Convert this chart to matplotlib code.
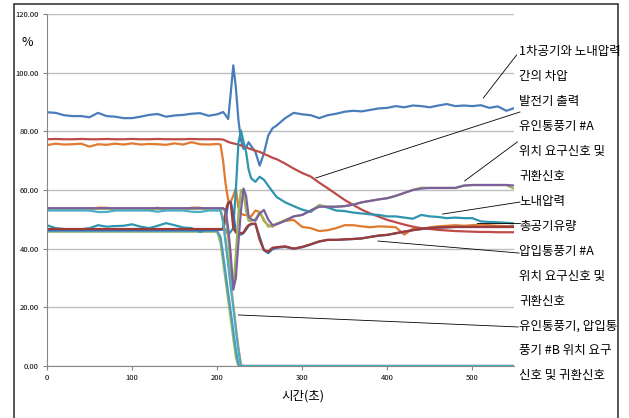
import matplotlib
matplotlib.use('Agg')
import matplotlib.pyplot as plt
from matplotlib.patches import Rectangle

plt.rcParams['font.family'] = ['Noto Sans CJK KR', 'DejaVu Sans']

# time axis (s)
t_sec = [0, 10, 20, 30, 40, 50, 60, 70, 80, 90, 100, 110, 120, 130, 140, 150, 160, 170, 180, 190, 200,
         204, 207, 210, 213, 216, 219, 222, 225, 228, 231, 234, 237, 240,
         245, 250, 255, 260, 265, 270,
         280, 290, 300, 310, 320, 330, 340, 350, 360, 370, 380, 390, 400, 410, 420, 430, 440, 450,
         460, 470, 480, 490, 500, 510, 520, 530, 540, 550]

# 1차공기와 노내압력 간의 차압
diff_press = [86.5, 86.3, 85.5, 85.2, 85.2, 84.8, 86.3, 85.2, 85.0, 84.5, 84.5, 85.0, 85.6, 85.9, 85.0, 85.4, 85.6, 86.0, 86.2, 85.3, 85.8,
              86.2, 86.6, 85.5, 84.2, 93.0, 102.5, 95.0, 84.0, 77.0, 74.0, 74.5, 76.3, 75.0,
              73.0, 68.3, 72.5, 78.5, 81.0, 82.0,
              84.5, 86.3, 85.8, 85.5, 84.5, 85.5, 86.0, 86.7, 87.0, 86.8, 87.3, 87.8, 88.0, 88.6, 88.2, 88.8, 88.6, 88.2,
              88.8, 89.3, 88.6, 88.8, 88.6, 88.9, 88.0, 88.5, 87.0, 88.0]
# 발전기 출력
gen_output = [77.3, 77.4, 77.3, 77.3, 77.4, 77.3, 77.3, 77.4, 77.3, 77.3, 77.4, 77.3, 77.3, 77.4, 77.3, 77.3, 77.3, 77.4, 77.3, 77.3, 77.3,
              77.3, 77.2, 76.8, 76.4, 76.1, 75.9, 75.7, 75.4, 75.2, 74.9, 74.6, 74.2, 73.9,
              73.4, 73.0, 72.3, 71.7, 71.0, 70.5,
              69.0, 67.3, 65.8, 64.6, 62.5, 60.6, 58.6, 56.6, 54.9, 53.3, 52.0, 50.9, 49.8, 49.0, 48.2, 47.5, 47.0, 46.7,
              46.4, 46.2, 46.0, 45.9, 45.8, 45.7, 45.7, 45.6, 45.6, 45.6]
# 총공기유량
air_flow = [75.3, 75.8, 75.5, 75.6, 75.8, 74.8, 75.6, 75.4, 75.8, 75.5, 75.9, 75.5, 75.7, 75.6, 75.4, 75.9, 75.5, 76.3, 75.6, 75.5, 75.7,
            75.5, 70.0, 62.0, 56.5, 56.0, 58.0, 60.5, 54.0, 52.0, 51.5, 51.5, 51.0, 51.0,
            53.0, 52.5, 49.5, 48.0, 47.5, 48.5,
            49.5, 49.8, 47.4, 47.0, 46.0, 46.3, 47.0, 48.0, 48.0, 47.6, 47.3, 47.6, 47.5, 47.3, 44.8, 46.8, 46.6, 47.3,
            47.6, 47.8, 48.0, 47.8, 48.0, 48.2, 48.0, 47.8, 47.7, 47.7]
# 노내압력
furnace_press = [48.0, 47.0, 46.7, 46.5, 46.6, 47.0, 48.0, 47.5, 47.7, 47.8, 48.3, 47.5, 47.0, 47.8, 48.7, 48.0, 47.2, 47.0, 45.7, 46.7, 46.4,
                 46.5, 47.0, 46.5, 44.8, 45.8, 47.0, 60.0, 76.0, 80.3, 76.5, 73.0, 67.0, 64.0,
                 62.8, 64.5, 63.5, 61.5, 59.5, 57.6,
                 55.8, 54.5, 53.3, 52.5, 54.8, 54.0, 53.0, 52.8, 52.3, 52.0, 51.7, 51.5, 51.0, 51.0, 50.6, 50.2, 51.5, 51.0,
                 50.8, 50.4, 50.6, 50.4, 50.4, 49.3, 49.1, 49.0, 48.8, 48.6]
# 유인통풍기 #A 위치 요구신호 / 귀환신호
ida_demand = [53.8, 53.8, 53.8, 53.8, 53.8, 53.8, 53.8, 53.8, 53.8, 53.8, 53.8, 53.8, 53.8, 53.8, 53.8, 53.8, 53.8, 53.8, 53.8, 53.8, 53.8,
              53.8, 53.8, 53.0, 47.0, 38.0, 26.0, 30.0, 42.0, 53.0, 60.5, 58.0, 51.0, 50.0,
              49.5, 52.0, 53.2, 50.0, 48.0, 48.3,
              49.5, 51.0, 51.5, 53.0, 54.3, 54.3, 54.3, 54.5, 55.0, 55.8, 56.3, 56.8, 57.2, 58.0, 59.0, 60.0, 60.5, 60.7,
              60.7, 60.7, 60.7, 61.5, 61.7, 61.7, 61.7, 61.7, 61.7, 61.5]
ida_feedback = [53.6, 53.6, 53.6, 53.6, 53.6, 53.6, 53.6, 53.6, 53.6, 53.6, 53.6, 53.6, 53.6, 53.6, 53.6, 53.6, 53.6, 53.6, 53.6, 53.6, 53.6,
                53.6, 53.6, 52.5, 44.0, 33.0, 26.5, 38.0, 52.0, 60.0, 59.0, 53.0, 49.5, 49.5,
                50.0, 52.5, 50.0, 47.5, 47.8, 48.5,
                49.8, 51.0, 51.5, 53.0, 54.8, 54.3, 54.3, 54.5, 55.0, 55.8, 56.3, 56.8, 57.2, 58.0, 59.0, 60.0, 60.8, 60.7,
                60.7, 60.7, 60.7, 61.5, 61.7, 61.7, 61.7, 61.7, 61.7, 60.3]
# 압입통풍기 #A 위치 요구신호 / 귀환신호
fda_demand = [46.7, 46.7, 46.7, 46.7, 46.7, 46.7, 46.7, 46.7, 46.7, 46.7, 46.7, 46.7, 46.7, 46.7, 46.7, 46.7, 46.7, 46.7, 46.7, 46.7, 46.7,
              46.7, 46.7, 53.0, 55.8, 55.5, 47.0, 45.5, 45.5, 45.3, 45.5, 47.0, 48.0, 48.5,
              48.5, 43.0, 39.5, 39.0, 40.3, 40.5,
              40.8, 40.0, 40.6, 41.5, 42.5, 43.0, 43.0, 43.2, 43.3, 43.5, 44.0, 44.5, 44.7, 45.3, 45.8, 46.3, 46.8, 47.0,
              47.2, 47.3, 47.4, 47.4, 47.4, 47.4, 47.4, 47.4, 47.4, 47.4]
fda_feedback = [46.4, 46.4, 46.4, 46.4, 46.4, 46.4, 46.4, 46.4, 46.4, 46.4, 46.4, 46.4, 46.4, 46.4, 46.4, 46.4, 46.4, 46.4, 46.4, 46.4, 46.4,
                46.4, 46.6, 50.0, 55.5, 56.0, 52.0, 46.0, 45.0, 44.8, 45.3, 46.5, 47.8, 48.3,
                48.5, 44.0, 39.5, 38.5, 39.8, 40.3,
                40.6, 40.0, 40.5, 41.4, 42.4, 43.0, 43.0, 43.1, 43.3, 43.5, 44.0, 44.4, 44.7, 45.2, 45.8, 46.3, 46.7, 47.0,
                47.2, 47.3, 47.4, 47.4, 47.4, 47.4, 47.4, 47.4, 47.4, 47.4]
# 유인통풍기 #B 위치 요구신호 / 귀환신호
idb_demand = [53.3, 53.3, 53.3, 53.3, 53.3, 53.3, 54.0, 54.0, 53.3, 53.3, 53.3, 53.3, 53.3, 54.0, 53.3, 53.3, 53.3, 54.0, 54.0, 53.3, 53.3,
              53.3, 50.0, 43.0, 35.5, 28.0, 21.0, 13.5, 6.5, 0.5, 0, 0, 0, 0,
              0, 0, 0, 0, 0, 0,
              0, 0, 0, 0, 0, 0, 0, 0, 0, 0, 0, 0, 0, 0, 0, 0, 0, 0,
              0, 0, 0, 0, 0, 0, 0, 0, 0, 0]
idb_feedback = [53.0, 53.0, 53.0, 53.0, 53.0, 53.0, 52.5, 52.5, 53.0, 53.0, 53.0, 53.0, 53.0, 52.6, 53.0, 53.0, 53.0, 52.6, 52.5, 53.0, 53.0,
                53.0, 49.0, 42.0, 34.5, 27.0, 20.0, 12.5, 5.5, 0, 0, 0, 0, 0,
                0, 0, 0, 0, 0, 0,
                0, 0, 0, 0, 0, 0, 0, 0, 0, 0, 0, 0, 0, 0, 0, 0, 0, 0,
                0, 0, 0, 0, 0, 0, 0, 0, 0, 0]
# 압입통풍기 #B 위치 요구신호 / 귀환신호
fdb_demand = [45.8, 45.8, 45.8, 45.8, 45.8, 45.8, 45.8, 45.8, 45.8, 45.8, 45.8, 45.8, 45.8, 45.8, 45.8, 45.8, 45.8, 45.8, 45.8, 45.8, 45.8,
              42.0, 35.5, 29.0, 22.5, 16.0, 9.5, 3.0, 0, 0, 0, 0, 0, 0,
              0, 0, 0, 0, 0, 0,
              0, 0, 0, 0, 0, 0, 0, 0, 0, 0, 0, 0, 0, 0, 0, 0, 0, 0,
              0, 0, 0, 0, 0, 0, 0, 0, 0, 0]
fdb_feedback = [46.0, 46.0, 46.0, 46.0, 46.0, 46.0, 46.0, 46.0, 46.0, 46.0, 46.0, 46.0, 46.0, 46.0, 46.0, 46.0, 46.0, 46.0, 46.0, 46.0, 46.0,
                44.0, 38.0, 31.5, 25.0, 18.5, 12.0, 5.5, 0.5, 0, 0, 0, 0, 0,
                0, 0, 0, 0, 0, 0,
                0, 0, 0, 0, 0, 0, 0, 0, 0, 0, 0, 0, 0, 0, 0, 0, 0, 0,
                0, 0, 0, 0, 0, 0, 0, 0, 0, 0]

# callout text, one entry per printed line
label_lines = ['1차공기와 노내압력', '간의 차압', '발전기 출력', '유인통풍기 #A', '위치 요구신호 및', '귀환신호',
               '노내압력', '총공기유량', '압입통풍기 #A', '위치 요구신호 및', '귀환신호',
               '유인통풍기, 압입통', '풍기 #B 위치 요구', '신호 및 귀환신호']

# leader lines: (point on curve) -> (next to text), in data units
leaders = [((513, 91.4), (552, 106.0)),
           ((316, 64.1), (556, 86.6)),
           ((491, 63.1), (553, 76.4)),
           ((465, 51.8), (556, 55.9)),
           ((506, 48.8), (556, 48.8)),
           ((389, 42.6), (555, 38.5)),
           ((225, 17.4), (554, 13.3))]

# drawing order matches the original (later series on top)
series = [
    (diff_press, '#4A7EBB'),
    (gen_output, '#BE4B48'),
    (fdb_demand, '#9BBB59'),
    (fdb_feedback, '#4F9BC0'),
    (air_flow, '#E07A2E'),
    (furnace_press, '#2E95AE'),
    (idb_demand, '#F79646'),
    (fda_feedback, '#3D6DB0'),
    (fda_demand, '#9E3A38'),
    (ida_feedback, '#98B954'),
    (ida_demand, '#7D5FA0'),
    (idb_feedback, '#4BACC6'),
]

fig = plt.figure(figsize=(6.29, 4.18), dpi=100)
ax = fig.add_axes([47 / 629, 52 / 418, 467 / 629, 352 / 418])

for vals, col in series:
    ax.plot(t_sec, vals, color=col, lw=1.6, solid_joinstyle='round')

for (x0, y0), (x1, y1) in leaders:
    ax.plot([x0, x1], [y0, y1], color='black', lw=0.6, clip_on=False)

ax.set_xlim(0, 549)
ax.set_ylim(0, 120)
ax.set_xticks(range(0, 501, 100))
ax.set_yticks(range(0, 121, 20))
ax.set_yticklabels([f'{v:.2f}' for v in range(0, 121, 20)])
ax.yaxis.grid(True, color='#BEBEBE', lw=1.0)
ax.set_axisbelow(True)
for side in ['top', 'right']:
    ax.spines[side].set_visible(False)
for side in ['left', 'bottom']:
    ax.spines[side].set_color('#888888')
    ax.spines[side].set_linewidth(0.8)
ax.tick_params(length=3, width=0.8, color='#888888', labelsize=5.5, pad=3)

fig.text(27 / 629, 1 - 42 / 418, '%', fontsize=9, ha='center', va='center')
fig.text(303 / 629, 1 - 396 / 418, '시간(초)', fontsize=9, ha='center', va='center')

for i, line in enumerate(label_lines):
    py = 52 + i * 24.9
    fig.text(519 / 629, 1 - py / 418, line, fontsize=9, ha='left', va='center')

# outer frame of the pasted chart
fig.patches.append(Rectangle((14 / 629, -0.02), 604 / 629, 1.02 - 4 / 418, transform=fig.transFigure,
                             fill=False, edgecolor='#3A3A3A', lw=1.2))

fig.savefig('out.png', dpi=100)
